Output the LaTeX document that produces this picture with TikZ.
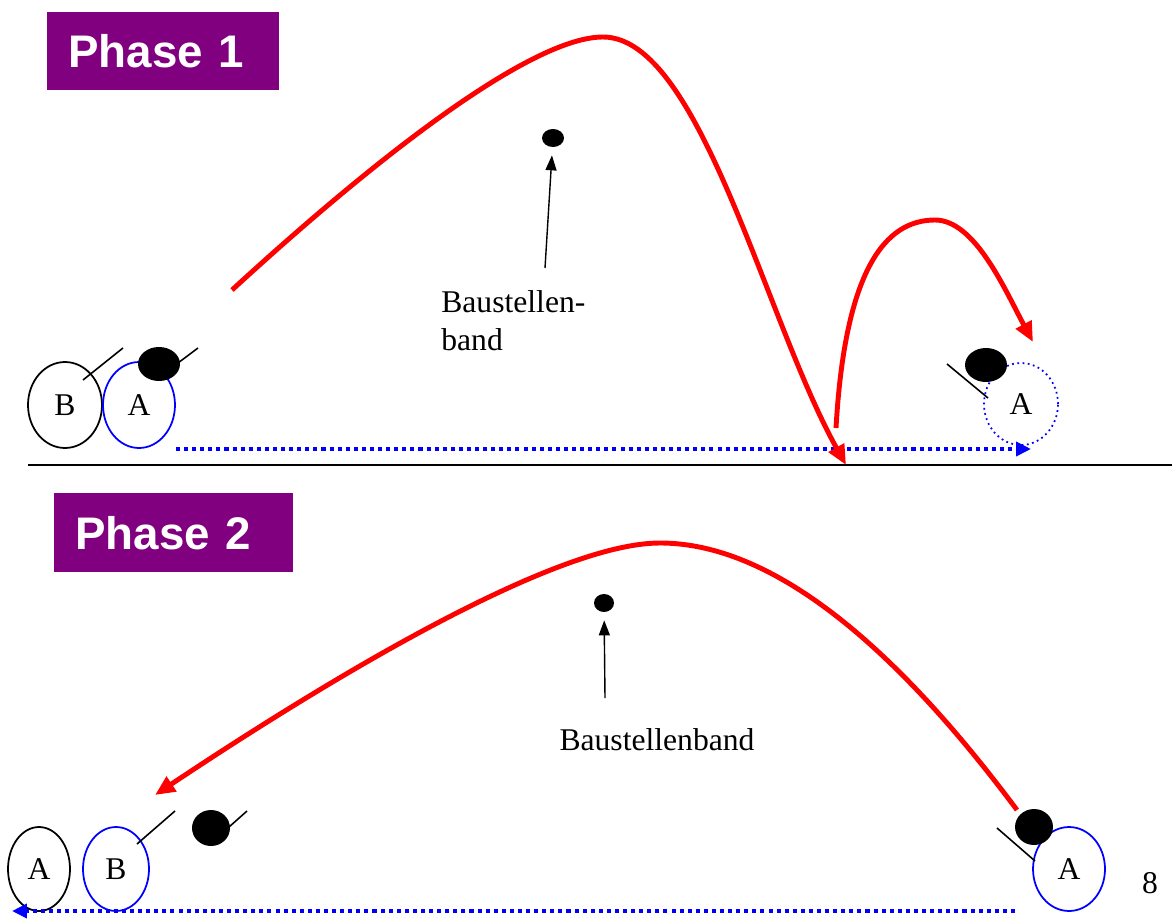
\documentclass[tikz,border=0pt]{standalone}
\usepackage{fontspec}
\setmainfont{Liberation Serif}
\newfontfamily\phasefont{Liberation Sans}
\usetikzlibrary{arrows.meta,shapes.geometric}
\definecolor{phasepurple}{RGB}{128,0,128}
\definecolor{flightred}{RGB}{255,0,0}
\definecolor{runblue}{RGB}{0,0,255}
\begin{document}
\begin{tikzpicture}[x=0.02cm, y=-0.02cm, font=\fontsize{18}{21.5}\selectfont,
  player/.style={ellipse, draw, line width=1pt, inner sep=0pt},
  ballshape/.style={ellipse, fill=black, inner sep=0pt},
  stick/.style={line width=0.9pt},
  flight/.style={line width=2.8pt, flightred, -{Triangle[length=0.4cm,width=0.34cm]}},
  run/.style={line width=2.5pt, runblue, dash pattern=on 2.3pt off 2.3pt, -{Triangle[length=0.3cm,width=0.28cm]}},
  pointer/.style={line width=0.8pt, -{Triangle[length=0.3cm,width=0.22cm]}},
  phasebox/.style={fill=phasepurple, text=white, anchor=north west, align=left, inner xsep=0.42cm, minimum height=1.56cm, font=\phasefont\bfseries\fontsize{26}{30}\selectfont}]
\useasboundingbox (0,0) rectangle (1172,922);
% Phase 1
\node[phasebox, text width=3.8cm] (ph1) at (47,12) {Phase 1};
\node[player, minimum width=1.48cm, minimum height=1.72cm] (b1) at (65,405) {B};
\node[player, draw=runblue, minimum width=1.44cm, minimum height=1.72cm] (a1) at (139,405) {A};
\node[ballshape, minimum width=0.84cm, minimum height=0.68cm] (ball1) at (159,364) {};
\draw[stick] (83,380) -- (123,348);
\draw[stick] (178,363) -- (198,348);
\node[player, draw=runblue, dotted, minimum width=1.48cm, minimum height=1.64cm] (a1end) at (1021,404) {A};
\node[ballshape, minimum width=0.84cm, minimum height=0.68cm] (ball1end) at (986,365) {};
\draw[stick] (947,364) -- (988,398);
\coordinate (run1start) at (176,449);
\coordinate (run1end) at (1031,449);
\draw[run] (run1start) -- (run1end);
% long pass and short bounce
\coordinate (pass1start) at (232,290);
\coordinate (pass1top) at (603,37);
\coordinate (pass1end) at (846,465);
\draw[flight] (pass1start) .. controls (390,145) and (535,37) .. (pass1top)
  .. controls (700,37) and (765,320) .. (pass1end);
\coordinate (bounce1start) at (836,428);
\coordinate (bounce1top) at (935,220);
\coordinate (bounce1end) at (1033,342);
\draw[flight] (bounce1start) .. controls (845,270) and (885,220) .. (bounce1top)
  .. controls (975,220) and (1005,290) .. (bounce1end);
\node[ellipse, fill=black, inner sep=0pt, minimum width=0.44cm, minimum height=0.36cm] (band1) at (553,138) {};
\node[anchor=north west, align=left, inner sep=0pt] (lab1) at (441,290) {Baustellen-\\band};
\coordinate (tail1) at (545,268);
\draw[pointer, shorten >=0.16cm] (tail1) -- (band1);
\draw[line width=1.2pt] (28,465) -- (1172,465);
% Phase 2
\node[phasebox, text width=3.94cm, minimum height=1.58cm] (ph2) at (54,493) {Phase 2};
\node[player, minimum width=1.24cm, minimum height=1.68cm] (a2) at (39,869) {A};
\node[player, draw=runblue, minimum width=1.32cm, minimum height=1.68cm] (b2) at (116,869) {B};
\node[ballshape, minimum width=0.76cm, minimum height=0.72cm] (ball2) at (211,828) {};
\draw[stick] (137,844) -- (175,811);
\draw[stick] (229,827) -- (247,811);
\node[player, draw=runblue, minimum width=1.44cm, minimum height=1.68cm] (a2end) at (1069,869) {A};
\node[ballshape, minimum width=0.76cm, minimum height=0.72cm] (ball2end) at (1034,827) {};
\draw[stick] (997,828) -- (1035,861);
\coordinate (run2start) at (1015,911);
\coordinate (run2end) at (12,911);
\draw[run] (run2start) -- (run2end);
\coordinate (pass2start) at (1017,810);
\coordinate (pass2top) at (660,543);
\coordinate (pass2end) at (155,795);
\draw[flight] (pass2start) .. controls (920,680) and (790,543) .. (pass2top)
  .. controls (560,543) and (350,665) .. (pass2end);
\node[ellipse, fill=black, inner sep=0pt, minimum width=0.4cm, minimum height=0.36cm] (band2) at (604,603) {};
\node[anchor=base, inner sep=0pt] (lab2) at (657,750) {Baustellenband};
\coordinate (tail2) at (605,698);
\draw[pointer, shorten >=0.16cm] (tail2) -- (band2);
\node[anchor=base] (page) at (1150,893) {8};
\end{tikzpicture}
\end{document}
